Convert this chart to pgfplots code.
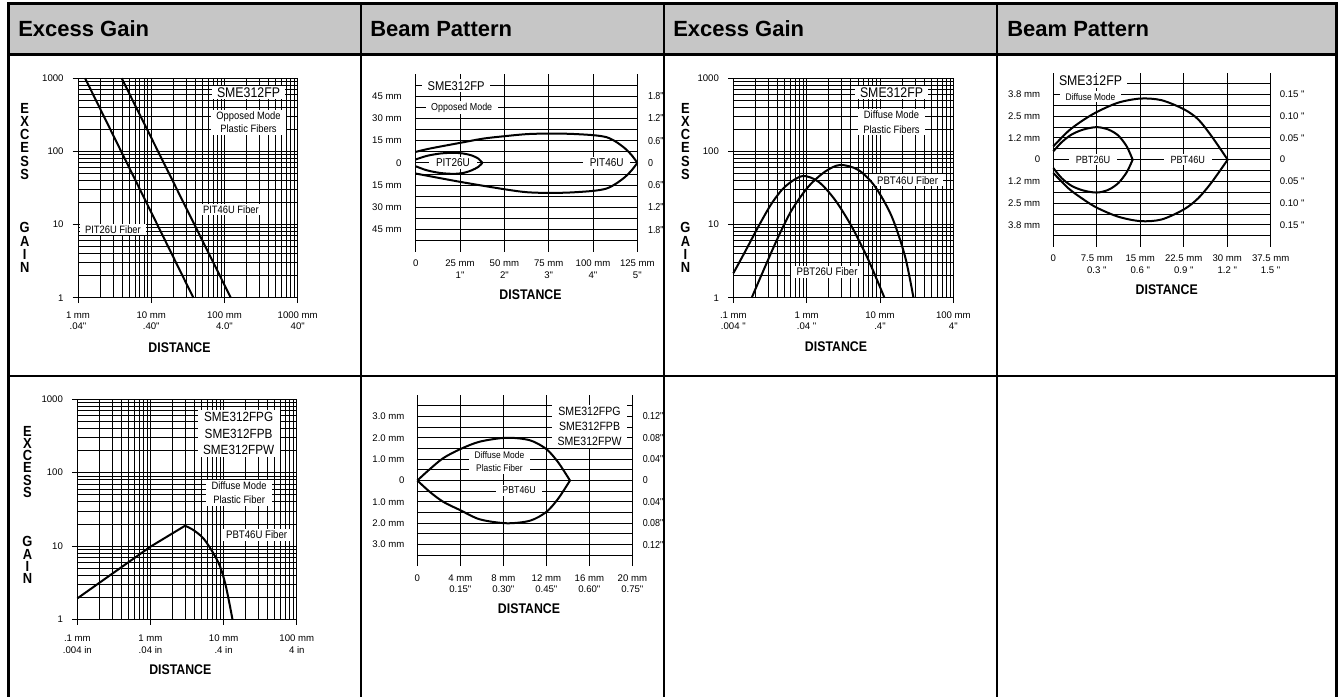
\documentclass[border=0pt]{standalone}
\usepackage{fontspec}
\setmainfont{Liberation Sans}
\newfontfamily\narrow[FakeStretch=0.88]{Liberation Sans}
\usepackage{pgfplots}
\pgfplotsset{compat=1.18}

\definecolor{hdr}{RGB}{198,198,198}
\newcommand\tickfont{\fontsize{7.2}{8.4}\selectfont}
\newcommand\rfont{\narrow\fontsize{7.6}{8.4}\selectfont}
\newcommand\nf[2]{\narrow\fontsize{#1}{#2}\selectfont}
\newcommand\headfont{\fontsize{16.5}{18}\selectfont\bfseries}
\newcommand\qq{\textquotedbl}
\newcommand\s{\strut}

\tikzset{
  txtbox/.style={fill=white, inner xsep=4pt, inner ysep=1.5pt, align=center},
  thickline/.style={black, line width=1.5pt},
}
\pgfplotsset{
  gainax/.style={
    scale only axis, clip=false,
    ymin=1, ymax=1000,
    ytick={1,10,100,1000}, yticklabels={1,10,100,1000},
    minor ytick={2,3,4,5,6,7,8,9,20,30,40,50,60,70,80,90,200,300,400,500,600,700,800,900},
    grid=both,
    major grid style={black, line width=0.7pt},
    minor grid style={black, line width=0.65pt},
    axis line style={black, line width=0.75pt},
    tick align=outside, tick pos=left,
    major tick length=4pt, minor tick length=0pt,
    tick style={black, line width=0.75pt},
    ticklabel style={font=\tickfont},
    xticklabel style={align=center, yshift=-2.3pt},
    yticklabel style={xshift=-3.3pt},
  },
  beamax/.style={
    scale only axis, clip=false,
    axis line style={draw=none},
    major tick length=0pt, tick style={draw=none},
    grid=major, major grid style={black, line width=0.7pt},
    ticklabel style={font=\tickfont},
    xticklabel style={align=center, yshift=-2pt},
  },
}

\begin{document}
\begin{tikzpicture}

% ---------- table frame and headers ----------
\begin{scope}[x=0.75pt,y=-0.75pt]
\path[use as bounding box] (0,0) rectangle (1338,696);
\fill[hdr] (8.5,3.5) rectangle (1336.5,54.5);
\draw[line width=1.8pt] (8.5,720) -- (8.5,3.5) -- (1336.5,3.5) -- (1336.5,720);
\draw[line width=1.8pt] (8.5,54.5) -- (1336.5,54.5);
\draw[line width=1.8pt] (8.5,376) -- (1336.5,376);
\foreach \x in {361,664,997} \draw[line width=1.8pt] (\x,3.5) -- (\x,720);
\node[anchor=base west, font=\headfont, inner sep=0pt] at (18,36.7) {Excess Gain};
\node[anchor=base west, font=\headfont, inner sep=0pt] at (370,36.7) {Beam Pattern};
\node[anchor=base west, font=\headfont, inner sep=0pt] at (673,36.7) {Excess Gain};
\node[anchor=base west, font=\headfont, inner sep=0pt] at (1007,36.7) {Beam Pattern};

% axis titles
\foreach \cx/\cy in {179.5/348, 530.5/295, 836/346.7, 1166.7/289.3, 180.3/670, 529/608.3}
  \node[font=\nf{10.5}{12}\bfseries] at (\cx,\cy) {DISTANCE};
\foreach \ch [count=\i from 0] in {E,X,C,E,S,S,,,,G,A,I,N}
  {\node[font=\nf{11}{12}\bfseries] at (24.7,108+\i*13.3) {\ch};
   \node[font=\nf{11}{12}\bfseries] at (685.5,108+\i*13.3) {\ch};
   \node[font=\nf{11}{12}\bfseries] at (27.5,431+\i*12.3) {\ch};}
\end{scope}

% ---------- 1: excess gain, opposed mode ----------
\begin{axis}[gainax, xmode=log, ymode=log,
  at={(58.5pt,-58.7pt)}, anchor=north west,
  width=164.8pt, height=164.6pt,
  xmin=1, xmax=1000,
  xtick={1,10,100,1000},
  xticklabels={{\s 1 mm\\.04\qq},{\s 10 mm\\.40\qq},{\s 100 mm\\4.0\qq},{\s 1000 mm\\40\qq}},
  minor xtick={2,3,4,5,6,7,8,9,20,30,40,50,60,70,80,90,200,300,400,500,600,700,800,900}]
\node[txtbox, font=\nf{10.5}{12}] at (rel axis cs:0.776,0.935) {SME312FP};
\node[txtbox, font=\nf{8}{10}] at (rel axis cs:0.776,0.799) {Opposed Mode\\Plastic Fibers};
\node[txtbox, font=\nf{8}{10}] at (rel axis cs:0.696,0.402) {PIT46U Fiber};
\node[txtbox, font=\nf{8}{10}] at (rel axis cs:0.159,0.311) {PIT26U Fiber};
\addplot[thickline] coordinates {(1.25,1000) (37.6,1)};
\addplot[thickline] coordinates {(3.95,1000) (122,1)};
\end{axis}

% ---------- 2: beam pattern, opposed mode ----------
\begin{axis}[beamax, at={(311.8pt,-55.5pt)}, anchor=north west,
  width=166.2pt, height=133.3pt,
  xmin=0, xmax=125, ymin=-60, ymax=60,
  xtick={0,25,50,75,100,125},
  xticklabels={{\s 0},{\s 25 mm\\1\qq},{\s 50 mm\\2\qq},{\s 75 mm\\3\qq},{\s 100 mm\\4\qq},{\s 125 mm\\5\qq}},
  ytick={-52.5,-45,-37.5,-30,-22.5,-15,-7.5,0,7.5,15,22.5,30,37.5,45,52.5},
  yticklabels={{},{45 mm},{},{30 mm},{},{15 mm},{},{0},{},{15 mm},{},{30 mm},{},{45 mm},{}},
  yticklabel style={xshift=-7.1pt}]
\node[txtbox, font=\nf{9.5}{11}] at (rel axis cs:0.182,0.934) {SME312FP};
\node[txtbox, font=\nf{7.6}{9}] at (rel axis cs:0.2075,0.81) {Opposed Mode};
\node[txtbox, font=\nf{8.5}{10}, inner xsep=5pt] at (axis cs:21,0) {PIT26U};
\node[txtbox, font=\nf{8.5}{10}, inner xsep=5pt] at (axis cs:107.7,0) {PIT46U};
\node[anchor=west, font=\rfont, xshift=4.5pt] at (axis cs:125,45) {1.8\qq};
\node[anchor=west, font=\rfont, xshift=4.5pt] at (axis cs:125,30) {1.2\qq};
\node[anchor=west, font=\rfont, xshift=4.5pt] at (axis cs:125,15) {0.6\qq};
\node[anchor=west, font=\rfont, xshift=4.5pt] at (axis cs:125,0) {0};
\node[anchor=west, font=\rfont, xshift=4.5pt] at (axis cs:125,-15) {0.6\qq};
\node[anchor=west, font=\rfont, xshift=4.5pt] at (axis cs:125,-30) {1.2\qq};
\node[anchor=west, font=\rfont, xshift=4.5pt] at (axis cs:125,-45) {1.8\qq};
\addplot[thickline, smooth] coordinates {(0,7.4) (8.1,9.7) (25,13.5) (38.2,16.4) (50,18) (62.6,19.4) (75.2,19.8) (87,19.6) (100.2,18.7) (107.7,17.3) (113,14.2) (118.1,9.7) (121.8,5.2) (125,0)};
\addplot[thickline, smooth] coordinates {(0,-7.2) (25,-12.8) (50,-17.8) (62.6,-19.8) (75.2,-20.3) (87,-20) (100.2,-18.9) (107.7,-17.3) (113,-14) (118.1,-9.5) (121.8,-5) (125,0)};
\addplot[thickline, smooth] coordinates {(0,2.3) (6.2,4.7) (13.7,6.3) (21.2,6.8) (26.9,6.3) (31.6,5) (35.3,2.9) (37.6,0)};
\addplot[thickline, smooth] coordinates {(0,-2.3) (6.2,-5) (13.7,-6.8) (21.2,-7.4) (26.9,-6.8) (31.6,-5) (35.3,-2.7) (37.6,0)};
\end{axis}

% ---------- 3: excess gain, diffuse mode ----------
\begin{axis}[gainax, xmode=log, ymode=log,
  at={(550pt,-58.7pt)}, anchor=north west,
  width=165pt, height=164.6pt,
  xmin=0.1, xmax=100,
  xtick={0.1,1,10,100},
  xticklabels={{\s .1 mm\\.004 \qq},{\s 1 mm\\.04 \qq},{\s 10 mm\\.4\qq},{\s 100 mm\\4\qq}},
  minor xtick={0.2,0.3,0.4,0.5,0.6,0.7,0.8,0.9,2,3,4,5,6,7,8,9,20,30,40,50,60,70,80,90}]
\node[txtbox, font=\nf{10.5}{12}] at (rel axis cs:0.719,0.935) {SME312FP};
\node[txtbox, font=\nf{8}{11}] at (rel axis cs:0.719,0.801) {Diffuse Mode\\Plastic Fibers};
\node[txtbox, font=\nf{8.2}{10}] at (rel axis cs:0.792,0.536) {PBT46U Fiber};
\node[txtbox, font=\nf{8.2}{10}] at (rel axis cs:0.426,0.119) {PBT26U Fiber};
\addplot[thickline, smooth] coordinates {(0.1,2.16) (0.1445,4.26) (0.219,9.36) (0.334,19.5) (0.507,33) (0.87,46) (1.445,38.6) (2.44,21.7) (4.12,9.36) (6.95,3.28) (11.5,1)};
\addplot[thickline, smooth] coordinates {(0.178,1) (0.271,2.66) (0.411,6.83) (0.626,15.8) (1.055,33) (1.78,52.9) (2.86,65.3) (5.07,55.8) (8.57,33) (14.5,12.8) (22,3.64) (28.6,1)};
\end{axis}

% ---------- 4: beam pattern, diffuse mode ----------
\begin{axis}[beamax, at={(790pt,-54.5pt)}, anchor=north west,
  width=163pt, height=130.5pt,
  xmin=0, xmax=37.5, ymin=-5.08, ymax=5.08,
  xtick={0,7.5,15,22.5,30,37.5},
  xticklabels={{\s 0},{\s 7.5 mm\\0.3 \qq},{\s 15 mm\\0.6 \qq},{\s 22.5 mm\\0.9 \qq},{\s 30 mm\\1.2 \qq},{\s 37.5 mm\\1.5 \qq}},
  ytick={-4.445,-3.81,-3.175,-2.54,-1.905,-1.27,-0.635,0,0.635,1.27,1.905,2.54,3.175,3.81,4.445},
  yticklabels={{},{3.8 mm},{},{2.5 mm},{},{1.2 mm},{},{0},{},{1.2 mm},{},{2.5 mm},{},{3.8 mm},{}},
  yticklabel style={xshift=-6.3pt}]
\node[txtbox, font=\nf{10.5}{12}] at (rel axis cs:0.171,0.953) {SME312FP};
\node[txtbox, font=\nf{7.2}{9}] at (rel axis cs:0.171,0.862) {Diffuse Mode};
\node[txtbox, font=\nf{7.8}{9}, inner xsep=5pt] at (axis cs:6.85,0) {PBT26U};
\node[txtbox, font=\nf{7.8}{9}, inner xsep=5pt] at (axis cs:23.2,0) {PBT46U};
\node[anchor=west, font=\tickfont, xshift=3.3pt] at (axis cs:37.5,3.81) {0.15 \qq};
\node[anchor=west, font=\tickfont, xshift=3.3pt] at (axis cs:37.5,2.54) {0.10 \qq};
\node[anchor=west, font=\tickfont, xshift=3.3pt] at (axis cs:37.5,1.27) {0.05 \qq};
\node[anchor=west, font=\tickfont, xshift=3.3pt] at (axis cs:37.5,0) {0};
\node[anchor=west, font=\tickfont, xshift=3.3pt] at (axis cs:37.5,-1.27) {0.05 \qq};
\node[anchor=west, font=\tickfont, xshift=3.3pt] at (axis cs:37.5,-2.54) {0.10 \qq};
\node[anchor=west, font=\tickfont, xshift=3.3pt] at (axis cs:37.5,-3.81) {0.15 \qq};
\addplot[thickline, smooth] coordinates {(0,0.78) (2.59,1.67) (4.89,2.25) (7.48,2.78) (11.2,3.33) (15.07,3.57) (18.7,3.47) (22.55,2.94) (25,2.35) (27.3,1.37) (30.08,0)};
\addplot[thickline, smooth] coordinates {(0,-0.78) (2.59,-1.67) (4.89,-2.25) (7.48,-2.8) (11.2,-3.33) (15.07,-3.59) (18.7,-3.49) (22.55,-2.9) (25,-2.25) (27.3,-1.33) (30.08,0)};
\addplot[thickline, smooth] coordinates {(0,0.49) (1.44,1.02) (3.16,1.47) (5.18,1.76) (7.48,1.9) (9.49,1.76) (11.2,1.41) (12.65,0.78) (13.69,0)};
\addplot[thickline, smooth] coordinates {(0,-0.49) (1.44,-1.08) (3.16,-1.53) (5.18,-1.8) (7.48,-1.92) (9.49,-1.76) (11.2,-1.37) (12.65,-0.74) (13.69,0)};
\end{axis}

% ---------- 5: excess gain, SME312FPG/B/W ----------
\begin{axis}[gainax, xmode=log, ymode=log,
  at={(58pt,-299.5pt)}, anchor=north west,
  width=164.6pt, height=165pt,
  xmin=0.1, xmax=100,
  xtick={0.1,1,10,100},
  xticklabels={{\s .1 mm\\.004 in},{\s 1 mm\\.04 in},{\s 10 mm\\.4 in},{\s 100 mm\\4 in}},
  xticklabel style={align=center, yshift=-0.8pt, font=\fontsize{7.2}{9}\selectfont},
  minor xtick={0.2,0.3,0.4,0.5,0.6,0.7,0.8,0.9,2,3,4,5,6,7,8,9,20,30,40,50,60,70,80,90}]
\node[txtbox, font=\nf{10}{12.5}] at (rel axis cs:0.735,0.844) {SME312FPG\\SME312FPB\\SME312FPW};
\node[txtbox, font=\nf{8}{10.5}] at (rel axis cs:0.737,0.576) {Diffuse Mode\\Plastic Fiber};
\node[txtbox, font=\nf{8.2}{10}] at (rel axis cs:0.817,0.383) {PBT46U Fiber};
\addplot[thickline] coordinates {(0.1,1.93) (1,9.8) (2.97,18.9)};
\addplot[thickline, smooth] coordinates {(2.97,18.9) (3.86,16.5) (5.29,12.7) (7.25,7.94) (8.95,5.23) (10.5,3.1) (12.0,1.65) (13.2,1)};
\end{axis}

% ---------- 6: beam pattern, SME312FPG/B/W ----------
\begin{axis}[beamax, at={(313pt,-296.25pt)}, anchor=north west,
  width=161.25pt, height=128.25pt,
  xmin=0, xmax=20, ymin=-4, ymax=4,
  xtick={0,4,8,12,16,20},
  xticklabels={{\s 0},{\s 4 mm\\0.15\qq},{\s 8 mm\\0.30\qq},{\s 12 mm\\0.45\qq},{\s 16 mm\\0.60\qq},{\s 20 mm\\0.75\qq}},
  ytick={-3.5,-3,-2.5,-2,-1.5,-1,-0.5,0,0.5,1,1.5,2,2.5,3,3.5},
  yticklabels={{},{3.0 mm},{},{2.0 mm},{},{1.0 mm},{},{0},{},{1.0 mm},{},{2.0 mm},{},{3.0 mm},{}},
  yticklabel style={xshift=-6.1pt}]
\node[txtbox, font=\nf{9}{11.5}] at (rel axis cs:0.801,0.816) {SME312FPG\\SME312FPB\\SME312FPW};
\node[txtbox, font=\nf{7.2}{10}] at (rel axis cs:0.382,0.611) {Diffuse Mode\\Plastic Fiber};
\node[txtbox, font=\nf{7.5}{9}, inner xsep=5pt] at (axis cs:9.46,-0.45) {PBT46U};
\node[anchor=west, font=\rfont, xshift=4.3pt] at (axis cs:20,3) {0.12\qq};
\node[anchor=west, font=\rfont, xshift=4.3pt] at (axis cs:20,2) {0.08\qq};
\node[anchor=west, font=\rfont, xshift=4.3pt] at (axis cs:20,1) {0.04\qq};
\node[anchor=west, font=\rfont, xshift=4.3pt] at (axis cs:20,0) {0};
\node[anchor=west, font=\rfont, xshift=4.3pt] at (axis cs:20,-1) {0.04\qq};
\node[anchor=west, font=\rfont, xshift=4.3pt] at (axis cs:20,-2) {0.08\qq};
\node[anchor=west, font=\rfont, xshift=4.3pt] at (axis cs:20,-3) {0.12\qq};
\addplot[thickline, smooth] coordinates {(0,0) (1.18,0.54) (2.42,1.05) (4,1.47) (5.83,1.82) (8.31,2.0) (10.48,1.88) (12,1.47) (13.1,0.85) (14.2,0)};
\addplot[thickline, smooth] coordinates {(0,0) (1.18,-0.54) (2.42,-1.0) (4,-1.39) (5.83,-1.82) (8.31,-2.0) (10.48,-1.88) (12,-1.47) (13.1,-0.85) (14.2,0)};
\end{axis}

\end{tikzpicture}
\end{document}
